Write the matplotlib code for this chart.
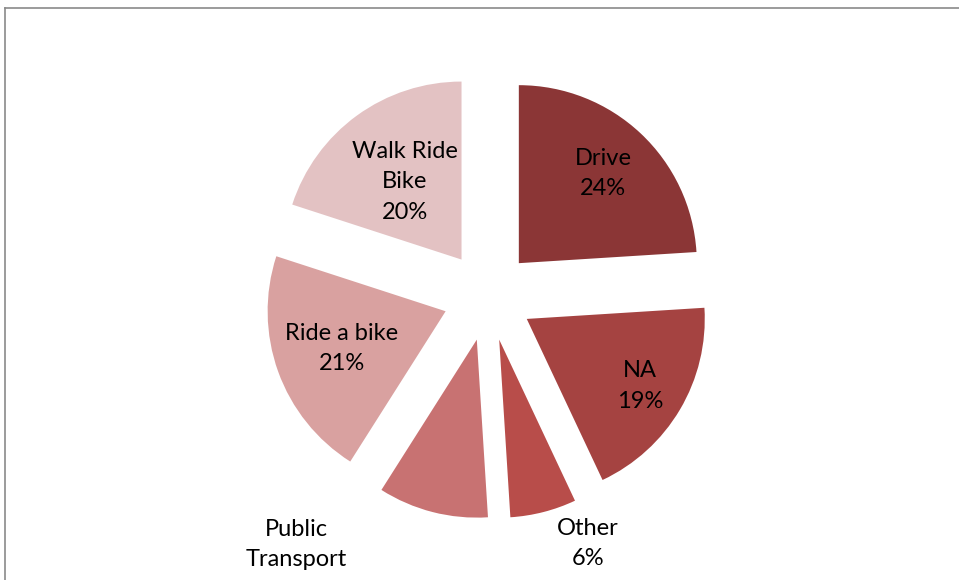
import numpy as np
import matplotlib
matplotlib.use('Agg')
import matplotlib.pyplot as plt
from matplotlib.lines import Line2D

# data
labels = ['Drive', 'NA', 'Other', 'Public\nTransport', 'Ride a bike', 'Walk Ride\nBike']
shares = [24, 19, 6, 10, 21, 20]
colors = ['#8b3636', '#a54341', '#b84d4a', '#c87272', '#d9a1a0', '#e3c2c3']

# label placement (radius from slice apex, angular nudge in degrees)
label_r = [0.69, 0.74, 1.25, 1.60, 0.62, 0.54]
label_nudge = [0, 0, 9, -25, 0, 0]

plt.rcParams['font.family'] = ['Lato', 'DejaVu Sans']

W, H = 959, 580
R = 178.0           # pie radius in pixels
cx, cy = 488, 296   # pie centre in pixels (from top-left)
expl = 0.253

fig = plt.figure(figsize=(W / 100, H / 100), dpi=100)
ax = fig.add_axes([0, 0, 1, 1])

wedges, _ = ax.pie(shares, colors=colors, startangle=90, counterclock=False,
                   explode=[expl] * len(shares), radius=1,
                   wedgeprops=dict(linewidth=0))

for w, lab, val, r, nudge in zip(wedges, labels, shares, label_r, label_nudge):
    mid = np.deg2rad((w.theta1 + w.theta2) / 2)
    ang = mid + np.deg2rad(nudge)
    x = expl * np.cos(mid) + r * np.cos(ang)
    y = expl * np.sin(mid) + r * np.sin(ang)
    ax.text(x, y, f'{lab}\n{val}%', ha='center', va='center',
            fontsize=17, color='black', linespacing=1.55)

ax.set_xlim(-cx / R, (W - cx) / R)
ax.set_ylim(-(H - cy) / R, cy / R)
ax.set_aspect('auto')
ax.axis('off')

# chart frame, runs off the right and bottom edges
ytop = 1 - 7.5 / H
xleft = 4.5 / W
fig.add_artist(Line2D([xleft, 1.01], [ytop, ytop], transform=fig.transFigure,
                      color='#8a8a8a', linewidth=1.2))
fig.add_artist(Line2D([xleft, xleft], [-0.01, ytop], transform=fig.transFigure,
                      color='#8a8a8a', linewidth=1.2))

fig.savefig('out.png', dpi=100, facecolor='white')
